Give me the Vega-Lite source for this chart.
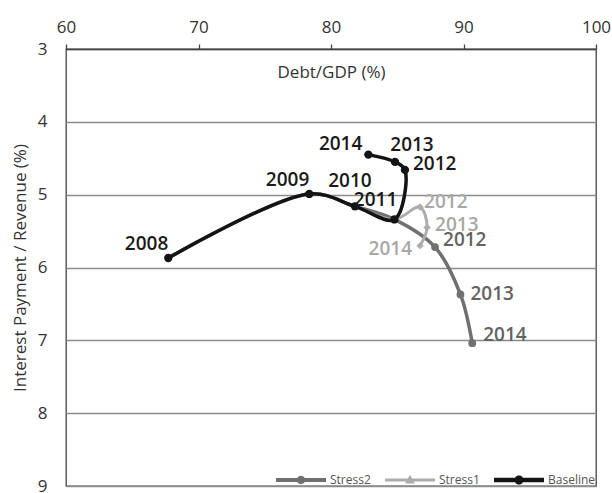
{
  "$schema": "https://vega.github.io/schema/vega-lite/v6.json",
  "width": 530,
  "height": 437,
  "autosize": "none",
  "padding": {"left": 66, "top": 49, "right": 16, "bottom": 7},
  "background": "white",
  "data": {
    "values": [
      {"series": "Baseline", "year": 2008, "debt": 67.72, "interest": 5.87},
      {"series": "Baseline", "year": 2009, "debt": 78.36, "interest": 4.99},
      {"series": "Baseline", "year": 2010, "debt": 81.81, "interest": 5.16},
      {"series": "Baseline", "year": 2011, "debt": 84.78, "interest": 5.34},
      {"series": "Baseline", "year": 2012, "debt": 85.58, "interest": 4.66},
      {"series": "Baseline", "year": 2013, "debt": 84.83, "interest": 4.55},
      {"series": "Baseline", "year": 2014, "debt": 82.82, "interest": 4.45},
      {"series": "Stress1", "year": 2008, "debt": 67.72, "interest": 5.87},
      {"series": "Stress1", "year": 2009, "debt": 78.36, "interest": 4.99},
      {"series": "Stress1", "year": 2010, "debt": 81.81, "interest": 5.16},
      {"series": "Stress1", "year": 2011, "debt": 84.78, "interest": 5.34},
      {"series": "Stress1", "year": 2012, "debt": 86.72, "interest": 5.17},
      {"series": "Stress1", "year": 2013, "debt": 87.25, "interest": 5.45},
      {"series": "Stress1", "year": 2014, "debt": 86.72, "interest": 5.7},
      {"series": "Stress2", "year": 2008, "debt": 67.72, "interest": 5.87},
      {"series": "Stress2", "year": 2009, "debt": 78.36, "interest": 4.99},
      {"series": "Stress2", "year": 2010, "debt": 81.81, "interest": 5.16},
      {"series": "Stress2", "year": 2011, "debt": 84.78, "interest": 5.34},
      {"series": "Stress2", "year": 2012, "debt": 87.85, "interest": 5.72},
      {"series": "Stress2", "year": 2013, "debt": 89.77, "interest": 6.37},
      {"series": "Stress2", "year": 2014, "debt": 90.66, "interest": 7.04}
    ]
  },
  "encoding": {
    "x": {
      "field": "debt",
      "type": "quantitative",
      "scale": {"domain": [60, 100], "nice": false, "zero": false},
      "axis": {
        "orient": "top",
        "title": "Debt/GDP (%)",
        "values": [60, 70, 80, 90, 100],
        "grid": false,
        "tickSize": 5,
        "tickWidth": 1.3,
        "tickColor": "#444",
        "domainColor": "#444",
        "domainWidth": 1.3,
        "labelFlush": false,
        "labelFontSize": 17,
        "labelColor": "#333",
        "labelBaseline": "alphabetic",
        "labelPadding": 12,
        "titleFontSize": 17,
        "titleFontWeight": "normal",
        "titleColor": "#333",
        "titleBaseline": "alphabetic",
        "titleY": 28
      }
    },
    "y": {
      "field": "interest",
      "type": "quantitative",
      "scale": {"domain": [3, 9], "reverse": true, "nice": false, "zero": false},
      "axis": {
        "title": "Interest Payment / Revenue (%)",
        "values": [3, 4, 5, 6, 7, 8, 9],
        "ticks": false,
        "tickSize": 0,
        "domain": false,
        "gridColor": "#8c8c8c",
        "gridWidth": 1.3,
        "labelFlush": false,
        "labelFontSize": 17,
        "labelColor": "#333",
        "labelPadding": 19,
        "titleFontSize": 17,
        "titleFontWeight": "normal",
        "titleColor": "#333",
        "titlePadding": 8
      }
    }
  },
  "layer": [
    {
      "transform": [{"filter": "datum.series == 'Stress2'"}],
      "mark": {"type": "line", "interpolate": "catmull-rom", "color": "#707070", "strokeWidth": 3.5},
      "encoding": {"order": {"field": "year"}}
    },
    {
      "transform": [{"filter": "datum.series == 'Stress1'"}],
      "mark": {"type": "line", "interpolate": "catmull-rom", "color": "#adadad", "strokeWidth": 3},
      "encoding": {"order": {"field": "year"}}
    },
    {
      "transform": [{"filter": "datum.series == 'Baseline'"}],
      "mark": {"type": "line", "interpolate": "catmull-rom", "color": "#141414", "strokeWidth": 3.5},
      "encoding": {"order": {"field": "year"}}
    },
    {
      "transform": [{"filter": "datum.series == 'Stress2' && datum.year >= 2012"}],
      "mark": {"type": "point", "shape": "circle", "filled": true, "opacity": 1, "color": "#707070", "size": 60}
    },
    {
      "transform": [{"filter": "datum.series == 'Stress1' && datum.year >= 2012"}],
      "mark": {"type": "point", "shape": "diamond", "filled": true, "opacity": 1, "color": "#adadad", "size": 55}
    },
    {
      "transform": [{"filter": "datum.series == 'Baseline'"}],
      "mark": {"type": "point", "shape": "circle", "filled": true, "opacity": 1, "color": "#141414", "size": 70}
    },
    {
      "transform": [{"filter": "datum.year < 0"}],
      "mark": {"type": "point", "filled": true, "opacity": 1},
      "encoding": {
        "color": {
          "field": "series",
          "type": "nominal",
          "scale": {"domain": ["Stress2", "Stress1", "Baseline"], "range": ["#707070", "#adadad", "#141414"]},
          "legend": {
            "orient": "bottom-right",
            "direction": "horizontal",
            "title": null,
            "offset": 0,
            "padding": 0,
            "symbolSize": 64,
            "symbolOpacity": 1,
            "symbolStrokeWidth": 0,
            "labelFontSize": 12,
            "labelColor": "#555",
            "labelOffset": 23,
            "columnPadding": 14
          }
        },
        "shape": {
          "field": "series",
          "type": "nominal",
          "scale": {
            "domain": ["Stress2", "Stress1", "Baseline"],
            "range": [
              "M-6.25,-0.5H6.25V0.5H-6.25Z M1.05,0A1.05,1.05 0 1,1 -1.05,0A1.05,1.05 0 1,1 1.05,0Z",
              "M-6.25,-0.4H6.25V0.4H-6.25Z M0,-1.3L1.25,0.9L-1.25,0.9Z",
              "M-6.25,-0.55H6.25V0.55H-6.25Z M1.15,0A1.15,1.15 0 1,1 -1.15,0A1.15,1.15 0 1,1 1.15,0Z"
            ]
          }
        }
      }
    },
    {
      "transform": [{"filter": "datum.series == 'Baseline' && (datum.year == 2008 || datum.year == 2009)"}],
      "mark": {"type": "text", "align": "right", "baseline": "alphabetic", "dx": 0, "dy": -8, "color": "#1a1a1a"},
      "encoding": {"text": {"field": "year", "type": "nominal"}}
    },
    {
      "transform": [{"filter": "datum.series == 'Baseline' && datum.year == 2010"}],
      "mark": {"type": "text", "align": "center", "baseline": "alphabetic", "dx": -5, "dy": -19, "color": "#1a1a1a"},
      "encoding": {"text": {"field": "year", "type": "nominal"}}
    },
    {
      "transform": [{"filter": "datum.series == 'Baseline' && datum.year == 2011"}],
      "mark": {"type": "text", "align": "right", "baseline": "alphabetic", "dx": 3, "dy": -13, "color": "#1a1a1a"},
      "encoding": {"text": {"field": "year", "type": "nominal"}}
    },
    {
      "transform": [{"filter": "datum.series == 'Baseline' && datum.year == 2012"}],
      "mark": {"type": "text", "align": "left", "baseline": "middle", "dx": 8, "dy": -6, "color": "#1a1a1a"},
      "encoding": {"text": {"field": "year", "type": "nominal"}}
    },
    {
      "transform": [{"filter": "datum.series == 'Baseline' && datum.year == 2013"}],
      "mark": {"type": "text", "align": "center", "baseline": "alphabetic", "dx": 17, "dy": -11, "color": "#1a1a1a"},
      "encoding": {"text": {"field": "year", "type": "nominal"}}
    },
    {
      "transform": [{"filter": "datum.series == 'Baseline' && datum.year == 2014"}],
      "mark": {"type": "text", "align": "right", "baseline": "alphabetic", "dx": -6, "dy": -5, "color": "#1a1a1a"},
      "encoding": {"text": {"field": "year", "type": "nominal"}}
    },
    {
      "transform": [{"filter": "datum.series == 'Stress1' && datum.year == 2012"}],
      "mark": {"type": "text", "align": "left", "baseline": "middle", "dx": 4, "dy": -5, "color": "#a8a8a8"},
      "encoding": {"text": {"field": "year", "type": "nominal"}}
    },
    {
      "transform": [{"filter": "datum.series == 'Stress1' && datum.year == 2013"}],
      "mark": {"type": "text", "align": "left", "baseline": "middle", "dx": 8, "dy": -2, "color": "#a8a8a8"},
      "encoding": {"text": {"field": "year", "type": "nominal"}}
    },
    {
      "transform": [{"filter": "datum.series == 'Stress1' && datum.year == 2014"}],
      "mark": {"type": "text", "align": "right", "baseline": "middle", "dx": -8, "dy": 3, "color": "#a8a8a8"},
      "encoding": {"text": {"field": "year", "type": "nominal"}}
    },
    {
      "transform": [{"filter": "datum.series == 'Stress2' && datum.year == 2012"}],
      "mark": {"type": "text", "align": "left", "baseline": "middle", "dx": 8, "dy": -7, "color": "#636363"},
      "encoding": {"text": {"field": "year", "type": "nominal"}}
    },
    {
      "transform": [{"filter": "datum.series == 'Stress2' && datum.year == 2013"}],
      "mark": {"type": "text", "align": "left", "baseline": "middle", "dx": 10, "dy": 0, "color": "#636363"},
      "encoding": {"text": {"field": "year", "type": "nominal"}}
    },
    {
      "transform": [{"filter": "datum.series == 'Stress2' && datum.year == 2014"}],
      "mark": {"type": "text", "align": "left", "baseline": "middle", "dx": 11, "dy": -8, "color": "#636363"},
      "encoding": {"text": {"field": "year", "type": "nominal"}}
    }
  ],
  "config": {
    "font": "Open Sans",
    "view": {"stroke": "#444", "strokeWidth": 1.3},
    "text": {"font": "Open Sans", "fontSize": 19, "fontWeight": 600},
    "axis": {"labelFont": "Open Sans", "titleFont": "Open Sans"},
    "legend": {"labelFont": "Open Sans"}
  }
}
